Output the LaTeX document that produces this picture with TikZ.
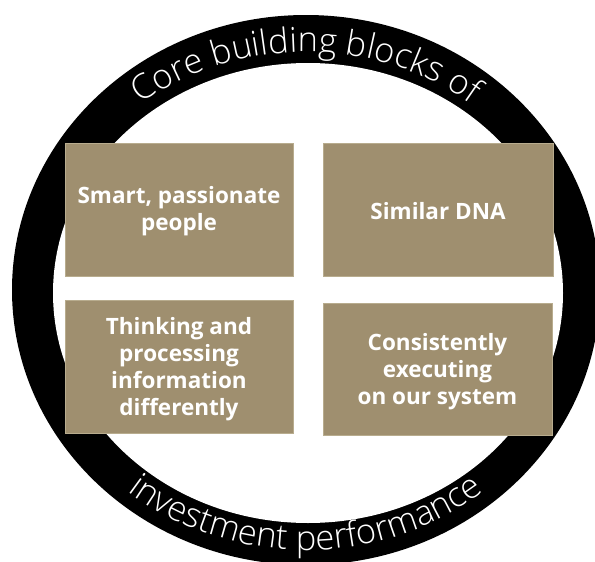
\documentclass[tikz,border=0pt]{standalone}
\usepackage{fontspec}
\usetikzlibrary{decorations.text}
\IfFontExistsTF{Open Sans Light}
  {\newfontfamily\ringfont{Open Sans Light}}
  {\newfontfamily\ringfont{Open Sans}}
\newfontfamily\blockfont{Open Sans}
\definecolor{blockfill}{HTML}{9F8F6F}
\definecolor{blockedge}{HTML}{B8AC8E}

\begin{document}
\begin{tikzpicture}[x=1pt,y=1pt,
  block/.style={fill=blockfill, draw=blockedge, line width=0.8pt,
    inner sep=0pt, minimum width=228pt, minimum height=133pt},
  blocktext/.style={text=white, align=center, inner sep=0pt,
    font=\blockfont\bfseries\fontsize{22.5}{27}\selectfont}]
\useasboundingbox (0,0) rectangle (595,-562);
\clip (0,0) rectangle (595,-562);

% black ring
\fill[black] (306,-290) ellipse [x radius=294pt, y radius=275pt];
\fill[white] (308,-293) ellipse [x radius=255pt, y radius=230pt];

% lettering on the ring
\coordinate (c) at (306,-290);
\path (c) ++(160:265pt and 238pt) coordinate (t0);
\path (c) ++(200:282pt and 260pt) coordinate (b0);
\path[decorate, decoration={text along path, text align=center,
    text={|\ringfont\fontsize{34.5}{34.5}\selectfont\color{white}|Core building blocks of}}]
  (t0) arc[start angle=160, end angle=20, x radius=265pt, y radius=238pt];
\path[decorate, decoration={text along path, text align=center,
    text={|\ringfont\fontsize{34.5}{34.5}\selectfont\color{white}|investment performance}}]
  (b0) arc[start angle=200, end angle=340, x radius=282pt, y radius=260pt];

% the four building blocks
\node[block] (people) at (179,-209.5) {};
\node[block, minimum width=230pt] (dna) at (438,-209.5) {};
\node[block] (thinking) at (179,-366.5) {};
\node[block, minimum width=229pt, minimum height=132pt] (executing) at (437.5,-369) {};

\node[blocktext] (peopletext) at ([yshift=-2pt]people.center) {Smart, passionate\\people};
\node[blocktext] (dnatext) at ([yshift=-2pt]dna.center) {Similar DNA};
\node[blocktext] (thinkingtext) at ([yshift=-3pt]thinking.center)
  {Thinking and\\processing\\information\\differently};
\node[blocktext] (executingtext) at ([yshift=-3pt]executing.center)
  {Consistently\\executing\\on our system};
\end{tikzpicture}
\end{document}
